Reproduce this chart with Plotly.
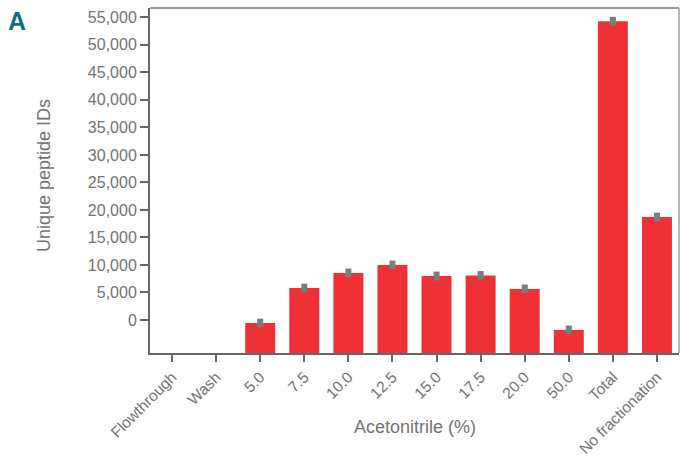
import plotly.graph_objects as go

categories = ["Flowthrough", "Wash", "5.0", "7.5", "10.0", "12.5", "15.0",
              "17.5", "20.0", "50.0", "Total", "No fractionation"]
peptide_ids = [None, None, -550, 5800, 8550, 10000, 8000, 8100, 5650, -1800, 54300, 18700]
errors = [0, 0, 800, 800, 800, 800, 800, 800, 800, 800, 800, 800]
y_tickvals = [0, 5000, 10000, 15000, 20000, 25000, 30000, 35000, 40000, 45000, 50000, 55000]
y_range = [-6000, 56700]

BASE = y_range[0]
heights = [None if v is None else v - BASE for v in peptide_ids]

AXIS = "#666666"
TXT = "#737373"
FONT = "Liberation Sans, Arial, sans-serif"

fig = go.Figure(go.Bar(
    x=categories, y=heights, base=BASE,
    marker=dict(color="#ef3136", line=dict(width=0)),
    width=0.68,
    error_y=dict(type="data", array=errors, color="#7c7c7c", thickness=6, width=0),
    hoverinfo="skip",
))

fig.update_layout(
    width=680, height=456,
    margin=dict(l=150, r=1, t=8, b=103),
    paper_bgcolor="white", plot_bgcolor="white",
    font=dict(family=FONT, color=TXT, size=16),
    showlegend=False,
    xaxis=dict(
        range=[-0.5, 11.5], tickangle=-45, ticks="outside", ticklen=7, tickwidth=2,
        tickcolor=AXIS, showline=True, linecolor=AXIS, linewidth=2, automargin=False,
        tickfont=dict(size=15.5, color=TXT),
    ),
    yaxis=dict(
        range=y_range, tickvals=y_tickvals, tickformat=",", ticks="outside", ticklen=8,
        tickwidth=2, tickcolor=AXIS, showline=True, linecolor=AXIS, linewidth=2,
        showgrid=False, zeroline=False, automargin=False,
        tickfont=dict(size=16, color=TXT),
    ),
    shapes=[
        dict(type="line", xref="paper", yref="paper", x0=0, x1=1, y0=1, y1=1,
             line=dict(color="#9a9a9a", width=2)),
        dict(type="line", xref="paper", yref="paper", x0=1, x1=1, y0=0, y1=1,
             line=dict(color="#b5b5b5", width=2)),
    ],
    annotations=[
        dict(text="<b>A</b>", xref="paper", yref="paper", x=-0.272, y=0.962,
             xanchor="left", yanchor="middle", showarrow=False,
             font=dict(size=25, color="#0d6d83", family=FONT)),
        dict(text="Acetonitrile (%)", xref="paper", yref="paper", x=0.5, y=-0.214,
             xanchor="center", yanchor="middle", showarrow=False,
             font=dict(size=18, color=TXT, family=FONT)),
        dict(text="Unique peptide IDs", xref="paper", yref="paper", x=-0.199, y=0.515,
             xanchor="center", yanchor="middle", showarrow=False, textangle=-90,
             font=dict(size=18, color=TXT, family=FONT)),
    ],
)

fig.write_html("out.html", config={"displayModeBar": False},
               post_script="document.body.style.margin='0px';document.body.style.overflow='hidden';")
